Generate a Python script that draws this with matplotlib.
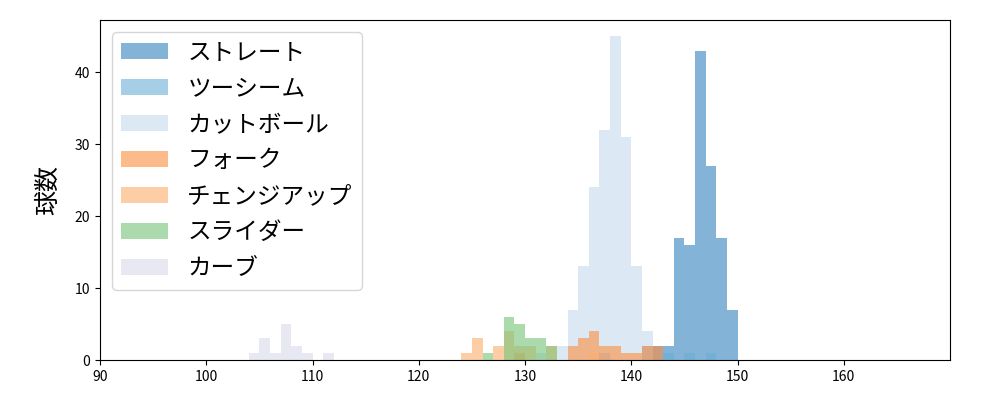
import numpy as np
import matplotlib
matplotlib.use("Agg")
import matplotlib.pyplot as plt

plt.rcParams["font.family"] = ["Noto Sans CJK JP", "DejaVu Sans"]

# ----------------------
# Pitch-speed histogram data (km/h bin start -> count)
# ----------------------
pitch_names = ["ストレート", "ツーシーム", "カットボール", "フォーク",
               "チェンジアップ", "スライダー", "カーブ"]
pitch_colors = ["#3182bd", "#6baed6", "#c6dbef", "#fd8d3c",
                "#fdae6b", "#74c476", "#dadaeb"]

straight_bins = [141, 142, 143, 144, 145, 146, 147, 148, 149]
straight_counts = [2, 2, 2, 17, 16, 43, 27, 17, 7]

twoseam_bins = [137, 143, 145, 147]
twoseam_counts = [1, 1, 1, 1]

cutter_bins = [131, 133, 134, 135, 136, 137, 138, 139, 140, 141]
cutter_counts = [1, 2, 7, 13, 24, 32, 45, 31, 13, 4]

fork_bins = [129, 134, 135, 136, 137, 138, 139, 140, 141, 142]
fork_counts = [1, 2, 3, 4, 2, 2, 1, 1, 2, 2]

change_bins = [124, 125, 127, 128, 129, 130, 132, 136]
change_counts = [1, 3, 2, 4, 2, 2, 2, 1]

slider_bins = [126, 128, 129, 130, 131, 132]
slider_counts = [1, 6, 5, 3, 3, 2]

curve_bins = [104, 105, 106, 107, 108, 109, 111]
curve_counts = [1, 3, 1, 5, 2, 1, 1]

series = [
    (straight_bins, straight_counts),
    (twoseam_bins, twoseam_counts),
    (cutter_bins, cutter_counts),
    (fork_bins, fork_counts),
    (change_bins, change_counts),
    (slider_bins, slider_counts),
    (curve_bins, curve_counts),
]

edges = np.arange(90, 171, 1)

fig, ax = plt.subplots(figsize=(10, 4), dpi=100)
fig.subplots_adjust(left=0.1, right=0.95, bottom=0.1, top=0.95)

for name, color, (b, c) in zip(pitch_names, pitch_colors, series):
    ax.hist(np.array(b) + 0.5, bins=edges, weights=c, color=color,
            alpha=0.6, label=name)

ax.set_xlim(90, 170)
ax.set_xticks(np.arange(90, 161, 10))
ax.set_ylabel("球数", fontsize=18, labelpad=10)
ax.legend(loc="upper left", fontsize=17, labelspacing=0.55)

fig.savefig("out.png")
